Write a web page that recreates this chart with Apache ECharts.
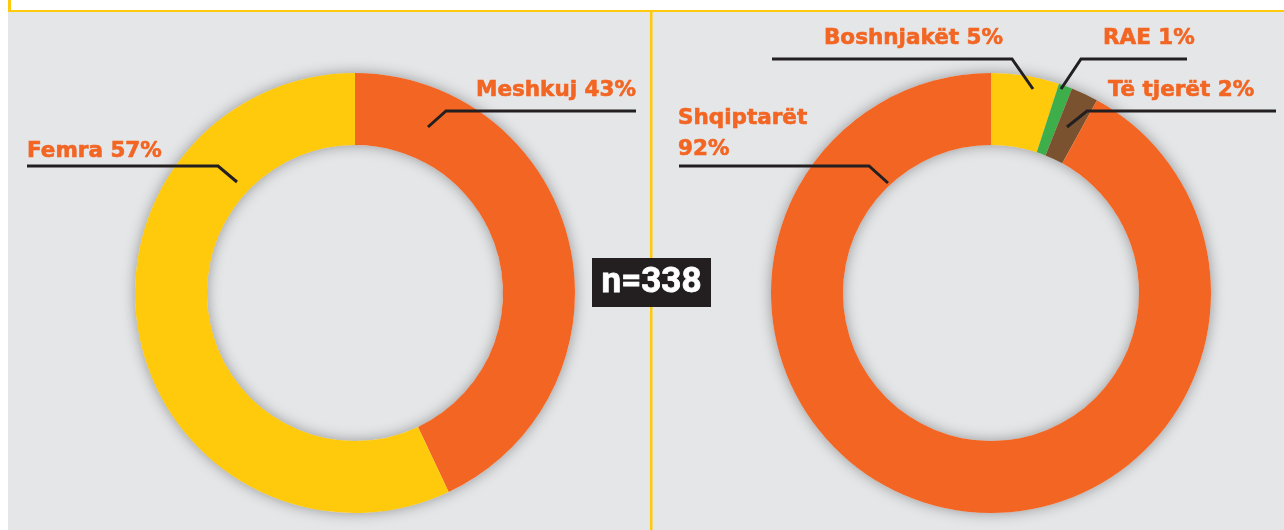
<!DOCTYPE html>
<html>
<head>
<meta charset="utf-8">
<script src="https://cdn.jsdelivr.net/npm/echarts@6/dist/echarts.min.js"></script>
<style>
  html, body { margin: 0; padding: 0; background: #fff; }
  #chart { width: 1284px; height: 530px; }
</style>
</head>
<body>
<div id="chart"></div>
<script>
// gender split
var genderNames = ['Meshkuj', 'Femra'];
var genderValues = [43, 57];
// ethnicity split (clockwise from top)
var ethnicNames = ['Boshnjakët', 'RAE', 'Të tjerët', 'Shqiptarët'];
var ethnicValues = [5, 1, 2, 92];
var sampleSize = 338;

var orange = '#F26522';
var yellow = '#FFCA0B';
var green = '#3DAE49';
var brown = '#7A5230';
var grey = '#E5E6E8';
var gold = '#FFC90E';
var ink = '#231F20';

// where each label and its leader line go
var genderLabels = [
  { x: 636, y: 90, align: 'right', line: [[428, 127], [446, 111], [636, 111]] },
  { x: 27, y: 151, align: 'left', line: [[237, 182], [218, 166], [27, 166]] }
];
var ethnicLabels = [
  { x: 1003, y: 38, align: 'right', line: [[1033, 89], [1012, 59], [772, 59]] },
  { x: 1103, y: 38, align: 'left', line: [[1061, 89], [1081, 59], [1187, 59]] },
  { x: 1108, y: 90, align: 'left', line: [[1067, 127], [1087, 111], [1276, 111]] },
  { x: 678, y: 134, align: 'left', line: [[888, 183], [869, 166], [679, 166]] }
];

var chart = echarts.init(document.getElementById('chart'));

function pieData(names, values, colors) {
  return names.map(function (n, i) {
    return { name: n, value: values[i], itemStyle: { color: colors[i] } };
  });
}

function layoutFrom(table) {
  return function (params) {
    var p = table[params.dataIndex];
    return { x: p.x, y: p.y, align: p.align, verticalAlign: 'middle' };
  };
}

function leaderLines(table) {
  return table.map(function (p) {
    return {
      type: 'polyline', z: 40,
      shape: { points: p.line },
      style: { stroke: ink, lineWidth: 3, fill: null }
    };
  });
}

var labelStyle = {
  show: true,
  color: orange,
  fontFamily: 'DejaVu Sans',
  fontWeight: 'bold',
  fontSize: 21.5,
  lineHeight: 31,
  textBorderColor: orange,
  textBorderWidth: 0.6,
  overflow: 'none',
  formatter: function (p) {
    if (p.name === 'Shqiptarët') return p.name + '\n' + p.value + '%';
    return p.name + ' ' + p.value + '%';
  }
};

function shadowRing(cx) {
  return {
    type: 'pie', silent: true, z: 1,
    center: [cx, 293], radius: [148, 220],
    label: { show: false }, labelLine: { show: false },
    itemStyle: { color: grey, shadowBlur: 14, shadowColor: 'rgba(0,0,0,0.35)' },
    data: [1], animation: false
  };
}

var option = {
  backgroundColor: '#fff',
  animation: false,
  graphic: [
    { type: 'rect', z: -10, shape: { x: 8, y: 12, width: 1276, height: 518 }, style: { fill: grey } },
    { type: 'rect', z: -9, shape: { x: 8, y: 10, width: 1276, height: 2 }, style: { fill: gold } },
    { type: 'rect', z: -9, shape: { x: 8, y: 0, width: 3, height: 12 }, style: { fill: gold } },
    { type: 'rect', z: -9, shape: { x: 650, y: 12, width: 2.5, height: 518 }, style: { fill: gold } },
    { type: 'rect', z: 50, shape: { x: 592, y: 258, width: 119, height: 49 }, style: { fill: ink } },
    {
      type: 'text', z: 51, x: 651.5, y: 283,
      style: {
        text: 'n=' + sampleSize, fill: '#fff', font: 'bold 35px Roboto',
        stroke: '#fff', lineWidth: 0.8,
        align: 'center', verticalAlign: 'middle'
      }
    }
  ].concat(leaderLines(genderLabels), leaderLines(ethnicLabels)),
  series: [
    shadowRing(355),
    shadowRing(991),
    {
      type: 'pie', z: 2,
      center: [355, 293], radius: [148, 220],
      startAngle: 90, clockwise: true,
      label: labelStyle, labelLine: { show: false },
      labelLayout: layoutFrom(genderLabels),
      data: pieData(genderNames, genderValues, [orange, yellow])
    },
    {
      type: 'pie', z: 2,
      center: [991, 293], radius: [148, 220],
      startAngle: 90, clockwise: true,
      label: labelStyle, labelLine: { show: false },
      labelLayout: layoutFrom(ethnicLabels),
      data: pieData(ethnicNames, ethnicValues, [yellow, green, brown, orange])
    }
  ]
};

chart.setOption(option);
</script>
</body>
</html>
